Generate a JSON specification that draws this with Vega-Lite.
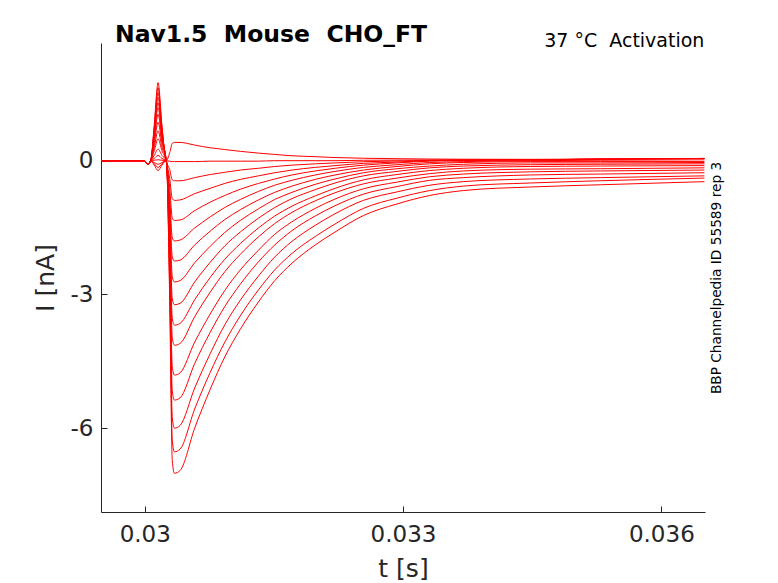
{
  "$schema": "https://vega.github.io/schema/vega-lite/v6.json",
  "width": 604,
  "height": 469,
  "autosize": {"type": "none"},
  "padding": {"left": 101, "top": 43, "right": 73, "bottom": 71},
  "background": "white",
  "title": {
    "text": "Nav1.5\u00a0\u00a0Mouse\u00a0\u00a0CHO_FT",
    "anchor": "start",
    "frame": "group",
    "dx": 14,
    "baseline": "alphabetic",
    "offset": -33,
    "font": "DejaVu Sans",
    "fontSize": 23.5,
    "fontWeight": "bold",
    "color": "#000000"
  },
  "config": {
    "font": "DejaVu Sans",
    "view": {"stroke": null},
    "axis": {
      "grid": false,
      "labelFont": "DejaVu Sans",
      "labelFontSize": 23,
      "labelColor": "#262626",
      "titleFont": "DejaVu Sans",
      "titleFontSize": 25,
      "titleFontWeight": "normal",
      "titleColor": "#262626",
      "domainColor": "#262626",
      "tickColor": "#262626",
      "tickSize": -6
    }
  },
  "layer": [
    {
      "data": {"values": [
        {"k":1,"t":0.0295,"v":0},{"k":1,"t":0.02999,"v":0},{"k":1,"t":0.03004,"v":-0.08},{"k":1,"t":0.03007,"v":0},{"k":1,"t":0.03011,"v":0.79},{"k":1,"t":0.030155,"v":1.75},{"k":1,"t":0.0302,"v":0.79},{"k":1,"t":0.03025,"v":0},{"k":1,"t":0.03029,"v":0.18},{"k":1,"t":0.03032,"v":0.39},{"k":1,"t":0.030345,"v":0.41},{"k":1,"t":0.03041,"v":0.41},{"k":1,"t":0.03058,"v":0.35},{"k":1,"t":0.03076,"v":0.29},{"k":1,"t":0.03093,"v":0.25},{"k":1,"t":0.03111,"v":0.21},{"k":1,"t":0.03132,"v":0.17},{"k":1,"t":0.03151,"v":0.14},{"k":1,"t":0.03171,"v":0.11},{"k":1,"t":0.03198,"v":0.09},{"k":1,"t":0.03221,"v":0.07},{"k":1,"t":0.03254,"v":0.055},{"k":1,"t":0.03293,"v":0.045},{"k":1,"t":0.03331,"v":0.037},{"k":1,"t":0.0337,"v":0.033},{"k":1,"t":0.03448,"v":0.03},{"k":1,"t":0.03529,"v":0.04},{"k":1,"t":0.0365,"v":0.05},
        {"k":2,"t":0.0295,"v":0},{"k":2,"t":0.02999,"v":0},{"k":2,"t":0.03004,"v":-0.08},{"k":2,"t":0.03007,"v":0},{"k":2,"t":0.03011,"v":0.74},{"k":2,"t":0.030155,"v":1.64},{"k":2,"t":0.0302,"v":0.74},{"k":2,"t":0.03025,"v":0},{"k":2,"t":0.03029,"v":-0.01},{"k":2,"t":0.03032,"v":-0.02},{"k":2,"t":0.030345,"v":-0.02},{"k":2,"t":0.03041,"v":-0.02},{"k":2,"t":0.03058,"v":-0.02},{"k":2,"t":0.03076,"v":-0.01},{"k":2,"t":0.03093,"v":-0.01},{"k":2,"t":0.03111,"v":-0.01},{"k":2,"t":0.03132,"v":-0.01},{"k":2,"t":0.03151,"v":0},{"k":2,"t":0.03171,"v":0},{"k":2,"t":0.03198,"v":0},{"k":2,"t":0.03221,"v":0},{"k":2,"t":0.03254,"v":0.01},{"k":2,"t":0.03293,"v":0.013},{"k":2,"t":0.03331,"v":0.016},{"k":2,"t":0.0337,"v":0.018},{"k":2,"t":0.03448,"v":0.02},{"k":2,"t":0.03529,"v":0.034},{"k":2,"t":0.0365,"v":0.05},
        {"k":3,"t":0.0295,"v":0},{"k":3,"t":0.02999,"v":0},{"k":3,"t":0.03004,"v":-0.08},{"k":3,"t":0.03007,"v":0},{"k":3,"t":0.03011,"v":0.69},{"k":3,"t":0.030155,"v":1.53},{"k":3,"t":0.0302,"v":0.69},{"k":3,"t":0.03025,"v":0},{"k":3,"t":0.03029,"v":-0.2},{"k":3,"t":0.03032,"v":-0.43},{"k":3,"t":0.030345,"v":-0.45},{"k":3,"t":0.03041,"v":-0.45},{"k":3,"t":0.03058,"v":-0.38},{"k":3,"t":0.03076,"v":-0.31},{"k":3,"t":0.03093,"v":-0.26},{"k":3,"t":0.03111,"v":-0.21},{"k":3,"t":0.03132,"v":-0.17},{"k":3,"t":0.03151,"v":-0.13},{"k":3,"t":0.03171,"v":-0.1},{"k":3,"t":0.03198,"v":-0.07},{"k":3,"t":0.03221,"v":-0.05},{"k":3,"t":0.03254,"v":-0.023},{"k":3,"t":0.03293,"v":-0.006},{"k":3,"t":0.03331,"v":0.007},{"k":3,"t":0.0337,"v":0.014},{"k":3,"t":0.03448,"v":0.02},{"k":3,"t":0.03529,"v":0.034},{"k":3,"t":0.0365,"v":0.05},
        {"k":4,"t":0.0295,"v":0},{"k":4,"t":0.02999,"v":0},{"k":4,"t":0.03004,"v":-0.08},{"k":4,"t":0.03007,"v":0},{"k":4,"t":0.03011,"v":0.64},{"k":4,"t":0.030155,"v":1.42},{"k":4,"t":0.0302,"v":0.64},{"k":4,"t":0.03025,"v":0},{"k":4,"t":0.03029,"v":-0.4},{"k":4,"t":0.03032,"v":-0.85},{"k":4,"t":0.030345,"v":-0.89},{"k":4,"t":0.03041,"v":-0.88},{"k":4,"t":0.03058,"v":-0.74},{"k":4,"t":0.03076,"v":-0.62},{"k":4,"t":0.03093,"v":-0.51},{"k":4,"t":0.03111,"v":-0.42},{"k":4,"t":0.03132,"v":-0.34},{"k":4,"t":0.03151,"v":-0.27},{"k":4,"t":0.03171,"v":-0.21},{"k":4,"t":0.03198,"v":-0.15},{"k":4,"t":0.03221,"v":-0.11},{"k":4,"t":0.03254,"v":-0.06},{"k":4,"t":0.03293,"v":-0.03},{"k":4,"t":0.03331,"v":0},{"k":4,"t":0.0337,"v":0.01},{"k":4,"t":0.03448,"v":0.02},{"k":4,"t":0.03529,"v":0.034},{"k":4,"t":0.0365,"v":0.05},
        {"k":5,"t":0.0295,"v":0},{"k":5,"t":0.02999,"v":0},{"k":5,"t":0.03004,"v":-0.08},{"k":5,"t":0.03007,"v":0},{"k":5,"t":0.03011,"v":0.59},{"k":5,"t":0.030155,"v":1.3},{"k":5,"t":0.0302,"v":0.59},{"k":5,"t":0.03025,"v":0},{"k":5,"t":0.03029,"v":-0.6},{"k":5,"t":0.03032,"v":-1.29},{"k":5,"t":0.030345,"v":-1.34},{"k":5,"t":0.03041,"v":-1.33},{"k":5,"t":0.03058,"v":-1.12},{"k":5,"t":0.03076,"v":-0.93},{"k":5,"t":0.03093,"v":-0.78},{"k":5,"t":0.03111,"v":-0.64},{"k":5,"t":0.03132,"v":-0.51},{"k":5,"t":0.03151,"v":-0.41},{"k":5,"t":0.03171,"v":-0.32},{"k":5,"t":0.03198,"v":-0.23},{"k":5,"t":0.03221,"v":-0.17},{"k":5,"t":0.03254,"v":-0.1},{"k":5,"t":0.03293,"v":-0.05},{"k":5,"t":0.03331,"v":-0.01},{"k":5,"t":0.0337,"v":0.005},{"k":5,"t":0.03448,"v":0.02},{"k":5,"t":0.03529,"v":0.034},{"k":5,"t":0.0365,"v":0.05},
        {"k":6,"t":0.0295,"v":0},{"k":6,"t":0.02999,"v":0},{"k":6,"t":0.03004,"v":-0.08},{"k":6,"t":0.03007,"v":0},{"k":6,"t":0.03011,"v":0.54},{"k":6,"t":0.030155,"v":1.19},{"k":6,"t":0.0302,"v":0.54},{"k":6,"t":0.03025,"v":0},{"k":6,"t":0.03029,"v":-0.81},{"k":6,"t":0.03032,"v":-1.73},{"k":6,"t":0.030345,"v":-1.8},{"k":6,"t":0.03041,"v":-1.78},{"k":6,"t":0.03058,"v":-1.51},{"k":6,"t":0.03076,"v":-1.26},{"k":6,"t":0.03093,"v":-1.05},{"k":6,"t":0.03111,"v":-0.87},{"k":6,"t":0.03132,"v":-0.69},{"k":6,"t":0.03151,"v":-0.55},{"k":6,"t":0.03171,"v":-0.44},{"k":6,"t":0.03198,"v":-0.32},{"k":6,"t":0.03221,"v":-0.24},{"k":6,"t":0.03254,"v":-0.15},{"k":6,"t":0.03293,"v":-0.09},{"k":6,"t":0.03331,"v":-0.04},{"k":6,"t":0.0337,"v":-0.02},{"k":6,"t":0.03448,"v":0},{"k":6,"t":0.03529,"v":0.01},{"k":6,"t":0.0365,"v":0.02},
        {"k":7,"t":0.0295,"v":0},{"k":7,"t":0.02999,"v":0},{"k":7,"t":0.03004,"v":-0.08},{"k":7,"t":0.03007,"v":0},{"k":7,"t":0.03011,"v":0.47},{"k":7,"t":0.030155,"v":1.04},{"k":7,"t":0.0302,"v":0.47},{"k":7,"t":0.03025,"v":0},{"k":7,"t":0.03029,"v":-1.01},{"k":7,"t":0.03032,"v":-2.16},{"k":7,"t":0.030345,"v":-2.25},{"k":7,"t":0.03041,"v":-2.23},{"k":7,"t":0.03058,"v":-1.89},{"k":7,"t":0.03076,"v":-1.58},{"k":7,"t":0.03093,"v":-1.32},{"k":7,"t":0.03111,"v":-1.1},{"k":7,"t":0.03132,"v":-0.88},{"k":7,"t":0.03151,"v":-0.71},{"k":7,"t":0.03171,"v":-0.57},{"k":7,"t":0.03198,"v":-0.42},{"k":7,"t":0.03221,"v":-0.32},{"k":7,"t":0.03254,"v":-0.21},{"k":7,"t":0.03293,"v":-0.13},{"k":7,"t":0.03331,"v":-0.07},{"k":7,"t":0.0337,"v":-0.04},{"k":7,"t":0.03448,"v":-0.02},{"k":7,"t":0.03529,"v":-0.02},{"k":7,"t":0.0365,"v":-0.02},
        {"k":8,"t":0.0295,"v":0},{"k":8,"t":0.02999,"v":0},{"k":8,"t":0.03004,"v":-0.08},{"k":8,"t":0.03007,"v":0},{"k":8,"t":0.03011,"v":0.39},{"k":8,"t":0.030155,"v":0.86},{"k":8,"t":0.0302,"v":0.39},{"k":8,"t":0.03025,"v":0},{"k":8,"t":0.03029,"v":-1.22},{"k":8,"t":0.03032,"v":-2.61},{"k":8,"t":0.030345,"v":-2.72},{"k":8,"t":0.03041,"v":-2.69},{"k":8,"t":0.03058,"v":-2.29},{"k":8,"t":0.03076,"v":-1.92},{"k":8,"t":0.03093,"v":-1.61},{"k":8,"t":0.03111,"v":-1.34},{"k":8,"t":0.03132,"v":-1.08},{"k":8,"t":0.03151,"v":-0.87},{"k":8,"t":0.03171,"v":-0.71},{"k":8,"t":0.03198,"v":-0.53},{"k":8,"t":0.03221,"v":-0.41},{"k":8,"t":0.03254,"v":-0.27},{"k":8,"t":0.03293,"v":-0.18},{"k":8,"t":0.03331,"v":-0.12},{"k":8,"t":0.0337,"v":-0.08},{"k":8,"t":0.03448,"v":-0.05},{"k":8,"t":0.03529,"v":-0.05},{"k":8,"t":0.0365,"v":-0.04},
        {"k":9,"t":0.0295,"v":0},{"k":9,"t":0.02999,"v":0},{"k":9,"t":0.03004,"v":-0.08},{"k":9,"t":0.03007,"v":0},{"k":9,"t":0.03011,"v":0.3},{"k":9,"t":0.030155,"v":0.67},{"k":9,"t":0.0302,"v":0.3},{"k":9,"t":0.03025,"v":0},{"k":9,"t":0.03029,"v":-1.45},{"k":9,"t":0.03032,"v":-3.1},{"k":9,"t":0.030345,"v":-3.23},{"k":9,"t":0.03041,"v":-3.2},{"k":9,"t":0.03058,"v":-2.72},{"k":9,"t":0.03076,"v":-2.28},{"k":9,"t":0.03093,"v":-1.91},{"k":9,"t":0.03111,"v":-1.6},{"k":9,"t":0.03132,"v":-1.29},{"k":9,"t":0.03151,"v":-1.05},{"k":9,"t":0.03171,"v":-0.85},{"k":9,"t":0.03198,"v":-0.65},{"k":9,"t":0.03221,"v":-0.5},{"k":9,"t":0.03254,"v":-0.34},{"k":9,"t":0.03293,"v":-0.24},{"k":9,"t":0.03331,"v":-0.16},{"k":9,"t":0.0337,"v":-0.12},{"k":9,"t":0.03448,"v":-0.09},{"k":9,"t":0.03529,"v":-0.08},{"k":9,"t":0.0365,"v":-0.07},
        {"k":10,"t":0.0295,"v":0},{"k":10,"t":0.02999,"v":0},{"k":10,"t":0.03004,"v":-0.08},{"k":10,"t":0.03007,"v":0},{"k":10,"t":0.03011,"v":0.22},{"k":10,"t":0.030155,"v":0.49},{"k":10,"t":0.0302,"v":0.22},{"k":10,"t":0.03025,"v":0},{"k":10,"t":0.03029,"v":-1.66},{"k":10,"t":0.03032,"v":-3.54},{"k":10,"t":0.030345,"v":-3.69},{"k":10,"t":0.03041,"v":-3.65},{"k":10,"t":0.03058,"v":-3.12},{"k":10,"t":0.03076,"v":-2.62},{"k":10,"t":0.03093,"v":-2.21},{"k":10,"t":0.03111,"v":-1.86},{"k":10,"t":0.03132,"v":-1.51},{"k":10,"t":0.03151,"v":-1.24},{"k":10,"t":0.03171,"v":-1.02},{"k":10,"t":0.03198,"v":-0.79},{"k":10,"t":0.03221,"v":-0.62},{"k":10,"t":0.03254,"v":-0.43},{"k":10,"t":0.03293,"v":-0.31},{"k":10,"t":0.03331,"v":-0.22},{"k":10,"t":0.0337,"v":-0.17},{"k":10,"t":0.03448,"v":-0.13},{"k":10,"t":0.03529,"v":-0.12},{"k":10,"t":0.0365,"v":-0.11},
        {"k":11,"t":0.0295,"v":0},{"k":11,"t":0.02999,"v":0},{"k":11,"t":0.03004,"v":-0.08},{"k":11,"t":0.03007,"v":0},{"k":11,"t":0.03011,"v":0.12},{"k":11,"t":0.030155,"v":0.26},{"k":11,"t":0.0302,"v":0.12},{"k":11,"t":0.03025,"v":0},{"k":11,"t":0.03029,"v":-1.86},{"k":11,"t":0.03032,"v":-3.97},{"k":11,"t":0.030345,"v":-4.14},{"k":11,"t":0.03041,"v":-4.1},{"k":11,"t":0.03058,"v":-3.5},{"k":11,"t":0.03076,"v":-2.95},{"k":11,"t":0.03093,"v":-2.49},{"k":11,"t":0.03111,"v":-2.1},{"k":11,"t":0.03132,"v":-1.71},{"k":11,"t":0.03151,"v":-1.41},{"k":11,"t":0.03171,"v":-1.16},{"k":11,"t":0.03198,"v":-0.9},{"k":11,"t":0.03221,"v":-0.72},{"k":11,"t":0.03254,"v":-0.52},{"k":11,"t":0.03293,"v":-0.39},{"k":11,"t":0.03331,"v":-0.29},{"k":11,"t":0.0337,"v":-0.23},{"k":11,"t":0.03448,"v":-0.19},{"k":11,"t":0.03529,"v":-0.18},{"k":11,"t":0.0365,"v":-0.16},
        {"k":12,"t":0.0295,"v":0},{"k":12,"t":0.02999,"v":0},{"k":12,"t":0.03004,"v":-0.08},{"k":12,"t":0.03007,"v":0},{"k":12,"t":0.03011,"v":0.05},{"k":12,"t":0.030155,"v":0.12},{"k":12,"t":0.0302,"v":0.05},{"k":12,"t":0.03025,"v":0},{"k":12,"t":0.03029,"v":-2.16},{"k":12,"t":0.03032,"v":-4.62},{"k":12,"t":0.030345,"v":-4.81},{"k":12,"t":0.03041,"v":-4.76},{"k":12,"t":0.03058,"v":-4.07},{"k":12,"t":0.03076,"v":-3.44},{"k":12,"t":0.03093,"v":-2.91},{"k":12,"t":0.03111,"v":-2.45},{"k":12,"t":0.03132,"v":-2.01},{"k":12,"t":0.03151,"v":-1.65},{"k":12,"t":0.03171,"v":-1.37},{"k":12,"t":0.03198,"v":-1.07},{"k":12,"t":0.03221,"v":-0.86},{"k":12,"t":0.03254,"v":-0.63},{"k":12,"t":0.03293,"v":-0.48},{"k":12,"t":0.03331,"v":-0.36},{"k":12,"t":0.0337,"v":-0.3},{"k":12,"t":0.03448,"v":-0.25},{"k":12,"t":0.03529,"v":-0.23},{"k":12,"t":0.0365,"v":-0.21},
        {"k":13,"t":0.0295,"v":0},{"k":13,"t":0.02999,"v":0},{"k":13,"t":0.03004,"v":-0.08},{"k":13,"t":0.03007,"v":0},{"k":13,"t":0.03011,"v":0.01},{"k":13,"t":0.030155,"v":0.02},{"k":13,"t":0.0302,"v":0.01},{"k":13,"t":0.03025,"v":0},{"k":13,"t":0.03029,"v":-2.42},{"k":13,"t":0.03032,"v":-5.16},{"k":13,"t":0.030345,"v":-5.37},{"k":13,"t":0.03041,"v":-5.32},{"k":13,"t":0.03058,"v":-4.55},{"k":13,"t":0.03076,"v":-3.85},{"k":13,"t":0.03093,"v":-3.27},{"k":13,"t":0.03111,"v":-2.77},{"k":13,"t":0.03132,"v":-2.27},{"k":13,"t":0.03151,"v":-1.89},{"k":13,"t":0.03171,"v":-1.57},{"k":13,"t":0.03198,"v":-1.24},{"k":13,"t":0.03221,"v":-1.01},{"k":13,"t":0.03254,"v":-0.75},{"k":13,"t":0.03293,"v":-0.58},{"k":13,"t":0.03331,"v":-0.44},{"k":13,"t":0.0337,"v":-0.38},{"k":13,"t":0.03448,"v":-0.32},{"k":13,"t":0.03529,"v":-0.3},{"k":13,"t":0.0365,"v":-0.27},
        {"k":14,"t":0.0295,"v":0},{"k":14,"t":0.02999,"v":0},{"k":14,"t":0.03004,"v":-0.08},{"k":14,"t":0.03007,"v":0},{"k":14,"t":0.03011,"v":-0.04},{"k":14,"t":0.030155,"v":-0.08},{"k":14,"t":0.0302,"v":-0.04},{"k":14,"t":0.03025,"v":0},{"k":14,"t":0.03029,"v":-2.7},{"k":14,"t":0.03032,"v":-5.76},{"k":14,"t":0.030345,"v":-6},{"k":14,"t":0.03041,"v":-5.94},{"k":14,"t":0.03058,"v":-5.1},{"k":14,"t":0.03076,"v":-4.33},{"k":14,"t":0.03093,"v":-3.68},{"k":14,"t":0.03111,"v":-3.13},{"k":14,"t":0.03132,"v":-2.59},{"k":14,"t":0.03151,"v":-2.16},{"k":14,"t":0.03171,"v":-1.81},{"k":14,"t":0.03198,"v":-1.45},{"k":14,"t":0.03221,"v":-1.19},{"k":14,"t":0.03254,"v":-0.89},{"k":14,"t":0.03293,"v":-0.7},{"k":14,"t":0.03331,"v":-0.55},{"k":14,"t":0.0337,"v":-0.47},{"k":14,"t":0.03448,"v":-0.41},{"k":14,"t":0.03529,"v":-0.38},{"k":14,"t":0.0365,"v":-0.34},
        {"k":15,"t":0.0295,"v":0},{"k":15,"t":0.02999,"v":0},{"k":15,"t":0.03004,"v":-0.08},{"k":15,"t":0.03007,"v":0},{"k":15,"t":0.03011,"v":-0.07},{"k":15,"t":0.030155,"v":-0.15},{"k":15,"t":0.0302,"v":-0.07},{"k":15,"t":0.03025,"v":0},{"k":15,"t":0.03029,"v":-2.94},{"k":15,"t":0.03032,"v":-6.27},{"k":15,"t":0.030345,"v":-6.53},{"k":15,"t":0.03041,"v":-6.47},{"k":15,"t":0.03058,"v":-5.57},{"k":15,"t":0.03076,"v":-4.75},{"k":15,"t":0.03093,"v":-4.07},{"k":15,"t":0.03111,"v":-3.48},{"k":15,"t":0.03132,"v":-2.9},{"k":15,"t":0.03151,"v":-2.45},{"k":15,"t":0.03171,"v":-2.08},{"k":15,"t":0.03198,"v":-1.7},{"k":15,"t":0.03221,"v":-1.42},{"k":15,"t":0.03254,"v":-1.07},{"k":15,"t":0.03293,"v":-0.84},{"k":15,"t":0.03331,"v":-0.67},{"k":15,"t":0.0337,"v":-0.57},{"k":15,"t":0.03448,"v":-0.5},{"k":15,"t":0.03529,"v":-0.45},{"k":15,"t":0.0365,"v":-0.39},
        {"k":16,"t":0.0295,"v":0},{"k":16,"t":0.02999,"v":0},{"k":16,"t":0.03004,"v":-0.08},{"k":16,"t":0.03007,"v":0},{"k":16,"t":0.03011,"v":-0.1},{"k":16,"t":0.030155,"v":-0.22},{"k":16,"t":0.0302,"v":-0.1},{"k":16,"t":0.03025,"v":0},{"k":16,"t":0.03029,"v":-3.15},{"k":16,"t":0.03032,"v":-6.73},{"k":16,"t":0.030345,"v":-7.01},{"k":16,"t":0.03041,"v":-6.95},{"k":16,"t":0.03058,"v":-6},{"k":16,"t":0.03076,"v":-5.13},{"k":16,"t":0.03093,"v":-4.4},{"k":16,"t":0.03111,"v":-3.78},{"k":16,"t":0.03132,"v":-3.17},{"k":16,"t":0.03151,"v":-2.69},{"k":16,"t":0.03171,"v":-2.3},{"k":16,"t":0.03198,"v":-1.89},{"k":16,"t":0.03221,"v":-1.6},{"k":16,"t":0.03254,"v":-1.23},{"k":16,"t":0.03293,"v":-0.97},{"k":16,"t":0.03331,"v":-0.78},{"k":16,"t":0.0337,"v":-0.67},{"k":16,"t":0.03448,"v":-0.59},{"k":16,"t":0.03529,"v":-0.54},{"k":16,"t":0.0365,"v":-0.47}
      ]},
      "mark": {"type": "line", "interpolate": "monotone", "color": "#ff0000", "strokeWidth": 1, "clip": true},
      "encoding": {
        "x": {
          "field": "t",
          "type": "quantitative",
          "scale": {"domain": [0.029492, 0.036507], "nice": false, "zero": false},
          "axis": {"values": [0.03, 0.033, 0.036], "labelExpr": "'' + datum.value", "title": "t [s]", "labelPadding": 17.5, "titlePadding": 10}
        },
        "y": {
          "field": "v",
          "type": "quantitative",
          "scale": {"domain": [-7.88, 2.64], "nice": false, "zero": false},
          "axis": {"values": [-6, -3, 0], "labelExpr": "'' + datum.value", "title": "I [nA]", "labelPadding": 14, "titlePadding": 12}
        },
        "detail": {"field": "k", "type": "nominal"}
      }
    },
    {
      "data": {"values": [{"label": "37 °C\u00a0\u00a0Activation"}]},
      "mark": {"type": "text", "align": "right", "baseline": "alphabetic", "fontSize": 19, "color": "#000000", "font": "DejaVu Sans"},
      "encoding": {
        "x": {"datum": 0.0365, "type": "quantitative"},
        "y": {
          "datum": 2.55,
          "type": "quantitative",
          "axis": {"orient": "right", "title": "BBP Channelpedia ID 55589 rep 3", "labels": false, "ticks": false, "domain": false, "grid": false, "titleAngle": 270, "titleFontSize": 13.7, "titleColor": "#000000", "titlePadding": 18}
        },
        "text": {"field": "label"}
      }
    }
  ],
  "resolve": {"axis": {"y": "independent"}}
}
